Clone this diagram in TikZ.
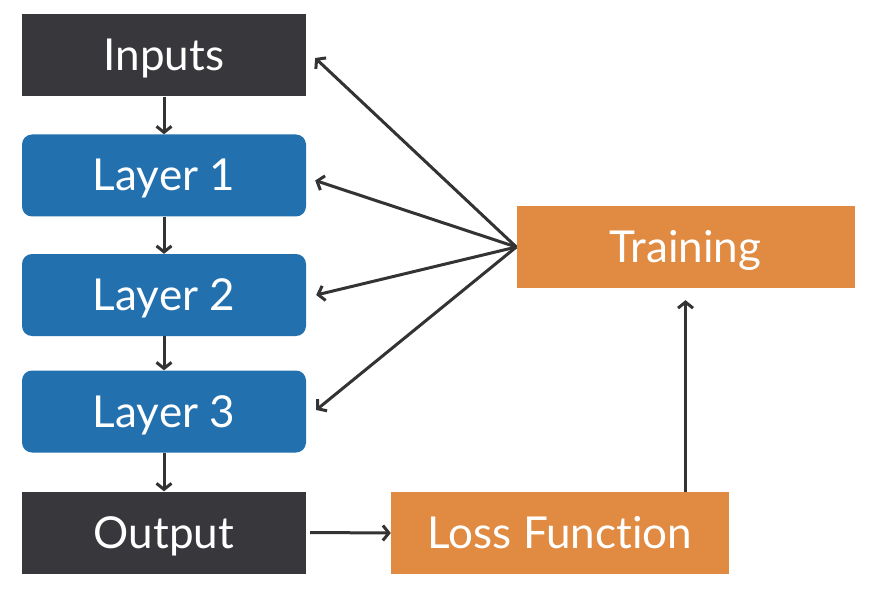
\documentclass[tikz,border=0pt]{standalone}
\usepackage{fontspec}
\setmainfont[Ligatures={NoCommon}]{Lato}
\usetikzlibrary{arrows.meta}
\definecolor{darkbox}{HTML}{38373B}
\definecolor{bluebox}{HTML}{2270AE}
\definecolor{orangebox}{HTML}{E08A42}
\definecolor{arrowc}{HTML}{333333}
\tikzset{
  box/.style={minimum width=284pt, minimum height=82pt, inner sep=0pt, text=white,
    font=\fontsize{44}{48}\selectfont, text height=31pt, text depth=0pt},
  darkb/.style={box, fill=darkbox},
  blueb/.style={box, fill=bluebox, rounded corners=10pt},
  orangeb/.style={box, fill=orangebox, minimum width=338pt},
  conn/.style={draw=arrowc, line width=3pt, -{Straight Barb[length=6pt,width=15pt]}}
}
\begin{document}
\begin{tikzpicture}[x=1pt,y=-1pt]
\useasboundingbox (0,0) rectangle (886,596);
\node[darkb] (in) at (164,55.5) {Inputs};
\node[blueb] (l1) at (164,175.5) {Layer 1};
\node[blueb] (l2) at (164,295) {Layer 2};
\node[blueb] (l3) at (164,411.5) {Layer 3};
\node[darkb] (out) at (164,532.5) {Output};
\node[orangeb] (tr) at (685.5,247) {Training};
\node[orangeb] (loss) at (560,533) {Loss Function};
\draw[conn] (in.south) -- (l1.north);
\draw[conn] (l1.south) -- (l2.north);
\draw[conn] (l2.south) -- (l3.north);
\draw[conn] (l3.south) -- (out.north);
\draw[conn] ([xshift=4pt]out.east) -- (loss.west);
\draw[conn] (loss.north -| tr.south) -- ([yshift=-12pt]tr.south);
\draw[conn] (tr.west) -- ([xshift=9pt,yshift=-2.5pt]in.east);
\draw[conn] (tr.west) -- ([xshift=9pt,yshift=-5pt]l1.east);
\draw[conn] (tr.west) -- ([xshift=10pt]l2.east);
\draw[conn] (tr.west) -- ([xshift=10pt,yshift=1.5pt]l3.east);
\end{tikzpicture}
\end{document}
